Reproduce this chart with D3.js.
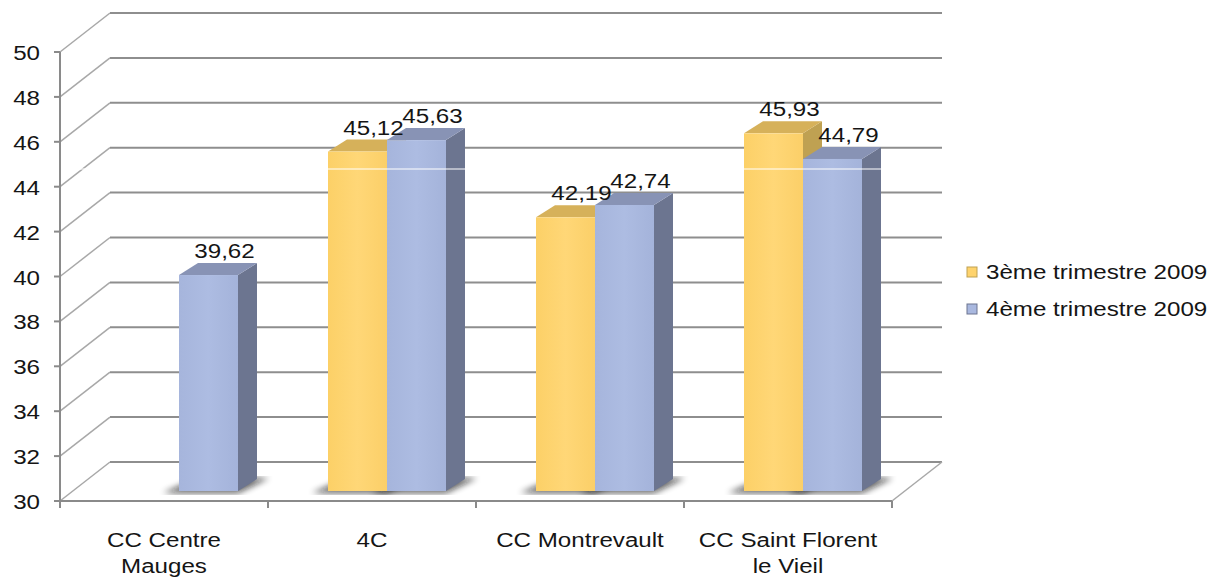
<!DOCTYPE html>
<html>
<head>
<meta charset="utf-8">
<script src="https://cdn.jsdelivr.net/npm/d3@7"></script>
<style>
body { margin: 0; background: #fff; }
text { font-family: "Liberation Sans", Arial, sans-serif; font-size: 21px; fill: #151515; }
</style>
</head>
<body>
<svg id="chart" width="1215" height="578"></svg>
<script>
var categories = [["CC Centre", "Mauges"], ["4C"], ["CC Montrevault"], ["CC Saint Florent", "le Vieil"]];
var series = ["3ème trimestre 2009", "4ème trimestre 2009"];
var q3 = [null, 45.12, 42.19, 45.93];
var q4 = [39.62, 45.63, 42.74, 44.79];
var yTicks = [30, 32, 34, 36, 38, 40, 42, 44, 46, 48, 50];

var fmt = function(v){ return v.toFixed(2).replace(".", ","); };

var svg = d3.select("#chart");
var stretch = 1.15;   // text in the picture is a bit wide

// geometry
var wall = {dx: 50, dy: -39};   // depth of the side wall / floor
var bar = {ox: 15, oy: -10, dx: 19, dy: -12};

var y = d3.scaleLinear().domain([30, 50]).range([501, 52]);
var x = d3.scaleBand().domain(d3.range(categories.length)).range([60, 892]);
var xs = d3.scaleBand().domain(series).range([-59, 59]);

var colors = [
	{front: "#fed36d", top: "#d6b15a", side: "#bfa152"},
	{front: "#a9b8df", top: "#8893b5", side: "#6c7590"}
];

var defs = svg.append("defs");
defs.append("filter").attr("id", "blur")
	.append("feGaussianBlur").attr("stdDeviation", 3);

var gy = defs.append("linearGradient").attr("id", "gy").attr("x1", 0).attr("x2", 1);
gy.append("stop").attr("offset", 0).attr("stop-color", "#fcd067");
gy.append("stop").attr("offset", 0.5).attr("stop-color", "#ffd777");
gy.append("stop").attr("offset", 1).attr("stop-color", "#fbcf68");
var gb = defs.append("linearGradient").attr("id", "gb").attr("x1", 0).attr("x2", 1);
gb.append("stop").attr("offset", 0).attr("stop-color", "#a6b5dc");
gb.append("stop").attr("offset", 0.5).attr("stop-color", "#adbce2");
gb.append("stop").attr("offset", 1).attr("stop-color", "#a4b3da");
var fronts = ["url(#gy)", "url(#gb)"];

// side wall diagonals
svg.append("g").selectAll("line")
	.data(yTicks)
	.enter()
	.append("line")
	.attr("x1", 60).attr("y1", function(d){ return y(d); })
	.attr("x2", 60 + wall.dx).attr("y2", function(d){ return y(d) + wall.dy; })
	.attr("stroke", "#a8a8a8").attr("stroke-width", 1.5);

// back wall gridlines
svg.append("g").selectAll("line")
	.data(yTicks)
	.enter()
	.append("line")
	.attr("x1", 60 + wall.dx).attr("y1", function(d){ return y(d) + wall.dy; })
	.attr("x2", 892 + wall.dx).attr("y2", function(d){ return y(d) + wall.dy; })
	.attr("stroke", "#8e8e8e").attr("stroke-width", 2);

// floor
svg.append("line")
	.attr("x1", 892).attr("y1", y(30))
	.attr("x2", 892 + wall.dx).attr("y2", y(30) + wall.dy)
	.attr("stroke", "#a8a8a8").attr("stroke-width", 1.5);
svg.append("line")
	.attr("x1", 60).attr("y1", y(30)).attr("x2", 892).attr("y2", y(30))
	.attr("stroke", "#8a8a8a").attr("stroke-width", 2);

// axis line and ticks
svg.append("line")
	.attr("x1", 60).attr("y1", y(50)).attr("x2", 60).attr("y2", y(30) + 7)
	.attr("stroke", "#8a8a8a").attr("stroke-width", 2);
svg.append("g").selectAll("line")
	.data(yTicks)
	.enter()
	.append("line")
	.attr("x1", 54).attr("x2", 60)
	.attr("y1", function(d){ return y(d); }).attr("y2", function(d){ return y(d); })
	.attr("stroke", "#8a8a8a").attr("stroke-width", 2);
svg.append("g").selectAll("line")
	.data(d3.range(categories.length + 1))
	.enter()
	.append("line")
	.attr("x1", function(d){ return 60 + d * x.bandwidth(); })
	.attr("x2", function(d){ return 60 + d * x.bandwidth(); })
	.attr("y1", y(30)).attr("y2", y(30) + 7)
	.attr("stroke", "#8a8a8a").attr("stroke-width", 2);

// build bar list
var bars = [];
categories.forEach(function(c, i){
	[q3, q4].forEach(function(vals, s){
		if (vals[i] == null) return;
		var x0 = x(i) + x.bandwidth() / 2 + xs(series[s]) + bar.ox;
		bars.push({i: i, s: s, v: vals[i], x0: x0, x1: x0 + xs.bandwidth(),
			yb: y(30) + bar.oy, yt: y(vals[i]) + bar.oy});
	});
});

// floor shadows
svg.append("g").selectAll("polygon")
	.data(bars)
	.enter()
	.append("polygon")
	.attr("points", function(d){
		return [[d.x0 - 16, d.yb + 2], [d.x1, d.yb + 2],
			[d.x1 + bar.dx + 12, d.yb + bar.dy - 1], [d.x0 + bar.dx, d.yb + bar.dy - 1]].join(" ");
	})
	.attr("fill", "#111").attr("opacity", 0.65)
	.attr("filter", "url(#blur)");

// bars
var g = svg.append("g").selectAll("g")
	.data(bars)
	.enter()
	.append("g");

g.append("polygon")
	.attr("points", function(d){
		return [[d.x1, d.yb], [d.x1 + bar.dx, d.yb + bar.dy],
			[d.x1 + bar.dx, d.yt + bar.dy], [d.x1, d.yt]].join(" ");
	})
	.attr("fill", function(d){ return colors[d.s].side; });

g.append("polygon")
	.attr("points", function(d){
		return [[d.x0, d.yt], [d.x1, d.yt],
			[d.x1 + bar.dx, d.yt + bar.dy], [d.x0 + bar.dx, d.yt + bar.dy]].join(" ");
	})
	.attr("fill", function(d){ return colors[d.s].top; });

g.append("rect")
	.attr("x", function(d){ return d.x0; })
	.attr("y", function(d){ return d.yt; })
	.attr("width", xs.bandwidth())
	.attr("height", function(d){ return d.yb - d.yt; })
	.attr("fill", function(d){ return fronts[d.s]; });

// thin white scan line crossing the picture
svg.append("line")
	.attr("x1", 75).attr("x2", 940).attr("y1", 169).attr("y2", 169)
	.attr("stroke", "#fff").attr("stroke-width", 1.2);

// value labels
svg.append("g").selectAll("text")
	.data(bars)
	.enter()
	.append("text")
	.attr("text-anchor", "middle")
	.attr("transform", function(d){
		return "translate(" + ((d.x0 + d.x1) / 2 + 16) + "," + (d.yt + bar.dy - 5) + ") scale(" + stretch + ",1)";
	})
	.text(function(d){ return fmt(d.v); });

// y tick labels
svg.append("g").selectAll("text")
	.data(yTicks)
	.enter()
	.append("text")
	.attr("text-anchor", "end")
	.attr("transform", function(d){
		return "translate(40," + (y(d) + 8) + ") scale(" + stretch + ",1)";
	})
	.text(function(d){ return d; });

// category labels
var cl = svg.append("g").selectAll("text")
	.data(categories)
	.enter()
	.append("text")
	.attr("text-anchor", "middle")
	.attr("transform", function(d, i){
		return "translate(" + (x(i) + x.bandwidth() / 2) + ",547) scale(" + stretch + ",1)";
	});
cl.selectAll("tspan")
	.data(function(d){ return d; })
	.enter()
	.append("tspan")
	.attr("x", 0)
	.attr("y", function(d, k){ return k * 26; })
	.text(function(d){ return d; });

// legend
var lg = svg.append("g").selectAll("g")
	.data(series)
	.enter()
	.append("g")
	.attr("transform", function(d, i){ return "translate(967," + (267 + i * 37) + ")"; });
lg.append("rect")
	.attr("width", 10).attr("height", 10)
	.attr("fill", function(d, i){ return colors[i].front; })
	.attr("stroke", function(d, i){ return colors[i].side; })
	.attr("stroke-width", 1);
lg.append("text")
	.attr("transform", "translate(19,12) scale(" + stretch + ",1)")
	.text(function(d){ return d; });
</script>
</body>
</html>
